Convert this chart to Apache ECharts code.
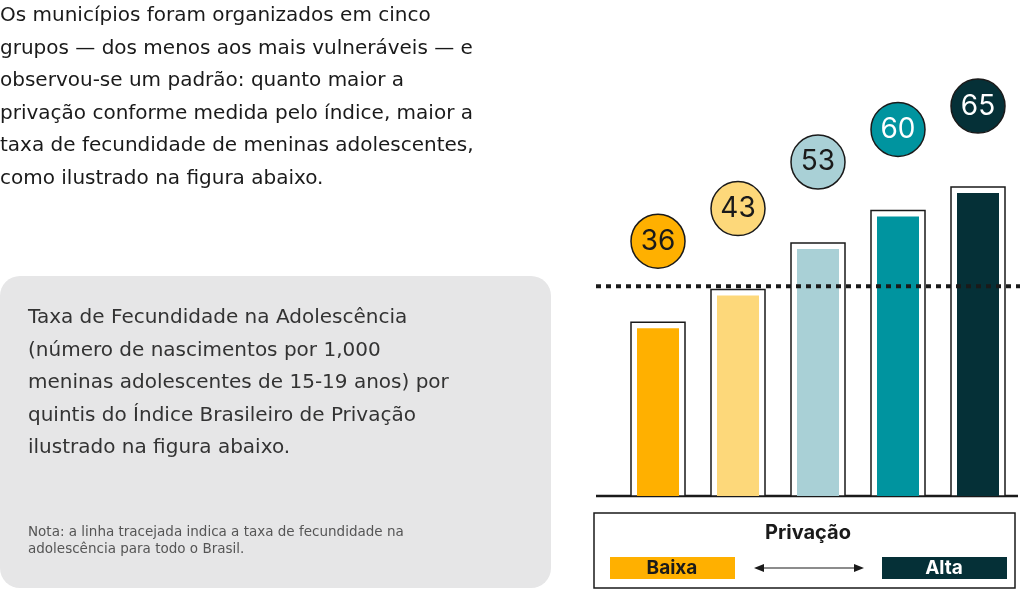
<!DOCTYPE html>
<html><head><meta charset="utf-8">
<script src="https://cdn.jsdelivr.net/npm/echarts@6/dist/echarts.min.js"></script>
<style>html,body{margin:0;padding:0;background:#fff}#c{width:1024px;height:591px}</style>
</head><body><div id="c"></div>
<script>
const categories = ['Q1','Q2','Q3','Q4','Q5'];
const values = [36, 43, 53, 60, 65];
const brazilRate = 45;
const barColors = ['#FFB000','#FDD87A','#A9D0D6','#00949F','#053037'];
const labelColors = ['#1a1a1a','#1a1a1a','#1a1a1a','#ffffff','#ffffff'];
const introLines = [
 'Os municípios foram organizados em cinco',
 'grupos — dos menos aos mais vulneráveis — e',
 'observou-se um padrão: quanto maior a',
 'privação conforme medida pelo índice, maior a',
 'taxa de fecundidade de meninas adolescentes,',
 'como ilustrado na figura abaixo.'];
const boxLines = [
 'Taxa de Fecundidade na Adolescência',
 '(número de nascimentos por 1,000',
 'meninas adolescentes de 15-19 anos) por',
 'quintis do Índice Brasileiro de Privação',
 'ilustrado na figura abaixo.'];
const noteLines = ['Nota: a linha tracejada indica a taxa de fecundidade na','adolescência para todo o Brasil.'];

const F = '"DejaVu Sans", sans-serif';
const F2 = 'Inter, "Noto Sans", sans-serif';
const chart = echarts.init(document.getElementById('c'));
const g = [];
introLines.forEach((t,i)=>g.push({type:'text',left:0,top:6+i*32.5,style:{text:t,font:'20px '+F,fill:'#1a1a1a'}}));
g.push({type:'rect',shape:{x:0,y:276,width:551,height:312,r:20},style:{fill:'#E6E6E7'},z:-1});
boxLines.forEach((t,i)=>g.push({type:'text',left:28,top:308+i*32.5,style:{text:t,font:'20px '+F,fill:'#333'}}));
noteLines.forEach((t,i)=>g.push({type:'text',left:28,top:525+i*17,style:{text:t,font:'13.5px '+F,fill:'#555'}}));
g.push({type:'line',shape:{x1:596,y1:496,x2:1018,y2:496},style:{stroke:'#1a1a1a',lineWidth:2.5}});
g.push({type:'rect',shape:{x:594,y:513,width:421,height:75},style:{fill:'none',stroke:'#1a1a1a',lineWidth:1.5}});
g.push({type:'text',x:808,y:533,style:{text:'Privação',font:'bold 20px '+F2,fill:'#1a1a1a',textAlign:'center',textVerticalAlign:'middle'}});
g.push({type:'rect',shape:{x:610,y:557,width:125,height:22},style:{fill:'#FFB000'}});
g.push({type:'text',x:672,y:568,style:{text:'Baixa',font:'bold 19px '+F2,fill:'#1a1a1a',textAlign:'center',textVerticalAlign:'middle'}});
g.push({type:'rect',shape:{x:882,y:557,width:125,height:22},style:{fill:'#053037'}});
g.push({type:'text',x:944,y:568,style:{text:'Alta',font:'bold 19px '+F2,fill:'#fff',textAlign:'center',textVerticalAlign:'middle'}});
g.push({type:'line',shape:{x1:757,y1:568,x2:861,y2:568},style:{stroke:'#1a1a1a',lineWidth:1.2}});
g.push({type:'polygon',shape:{points:[[754,568],[764,564],[764,572]]},style:{fill:'#1a1a1a'}});
g.push({type:'polygon',shape:{points:[[864,568],[854,564],[854,572]]},style:{fill:'#1a1a1a'}});

chart.setOption({
 animation:false,
 grid:{left:618,right:6,top:30,bottom:95},
 xAxis:{type:'category',data:categories,show:false},
 yAxis:{type:'value',min:0,max:100,show:false},
 series:[{type:'custom',data:values,renderItem:(p,api)=>{
   const i=p.dataIndex, v=api.value(0);
   const top=api.coord([i,v]), base=api.coord([i,0]);
   const x=top[0];
   return {type:'group',children:[
    {type:'rect',shape:{x:x-27,y:top[1]-6,width:54,height:base[1]-top[1]+6},style:{fill:'#fff',stroke:'#1a1a1a',lineWidth:1.5}},
    {type:'rect',shape:{x:x-21,y:top[1],width:42,height:base[1]-top[1]},style:{fill:barColors[i]}},
    {type:'circle',shape:{cx:x,cy:top[1]-87,r:27},style:{fill:barColors[i],stroke:'#1a1a1a',lineWidth:1.5}},
    {type:'text',x:x,y:top[1]-87,style:{text:String(v),font:'28px '+F2,fill:labelColors[i],textAlign:'center',textVerticalAlign:'middle'}}
   ]};
 },encode:{x:-1,y:0}}],
 graphic:g
});
const yd=chart.convertToPixel({yAxisIndex:0},brazilRate);
g.push({type:'line',shape:{x1:596,y1:yd,x2:1020,y2:yd},style:{stroke:'#1a1a1a',lineWidth:4,lineDash:[5,5]},z:10});
chart.setOption({graphic:g});
</script></body></html>
